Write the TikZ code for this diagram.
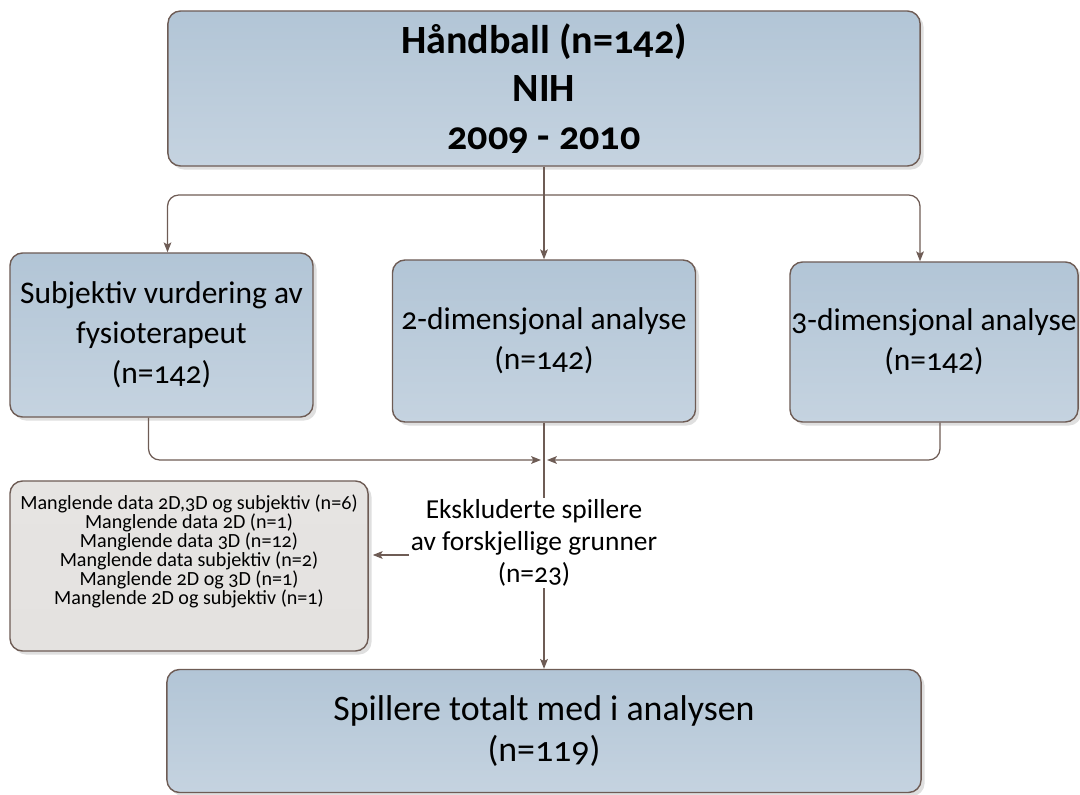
\documentclass[tikz,border=0pt]{standalone}
\usepackage{fontspec}
\setmainfont{Carlito}[Numbers=OldStyle]
\usetikzlibrary{arrows.meta}
\usetikzlibrary{calc}
\usetikzlibrary{positioning}
\usetikzlibrary{shadows}

\definecolor{rim}{RGB}{110,92,85}
\definecolor{bluetop}{RGB}{178,197,214}
\definecolor{bluebot}{RGB}{197,211,224}
\definecolor{greytop}{RGB}{230,228,226}
\definecolor{greybot}{RGB}{228,226,224}

\begin{document}
\begin{tikzpicture}[x=0.025cm, y=-0.025cm,
    box/.style={draw=rim, line width=1pt, rounded corners=9pt,
        top color=bluetop, bottom color=bluebot, align=center, inner sep=0pt,
        drop shadow={shadow xshift=2.5pt, shadow yshift=-2.5pt, fill=black!25}},
    greybox/.style={box, top color=greytop, bottom color=greybot},
    link/.style={draw=rim, line width=0.9pt},
    arrow/.style={link, -{Stealth[length=7pt, width=5.5pt, inset=1.5pt]}}]
    \useasboundingbox (0,0) rectangle (1080,795);

    \node[box, minimum width=18.8cm, minimum height=3.875cm,
        font=\fontsize{28.5}{34}\selectfont\bfseries] (cohort) at (544,88.5)
        {Håndball (n=142)\\NIH\\2009 - 2010};

    \node[box, minimum width=7.575cm, minimum height=4.1cm,
        font=\fontsize{22.4}{28.4}\selectfont] (subj) at (161.5,335)
        {Subjektiv vurdering av\\fysioterapeut\\(n=142)};
    \node[box, minimum width=7.575cm, minimum height=4.05cm,
        font=\fontsize{22.4}{28.4}\selectfont] (two) at (544,341)
        {2-dimensjonal analyse\\(n=142)};
    \node[box, minimum width=7.2cm, minimum height=4cm,
        font=\fontsize{22.4}{28.4}\selectfont] (three) at (934,342)
        {3-dimensjonal analyse\\(n=142)};

    \node[align=center, inner sep=1pt, font=\fontsize{19.5}{22.7}\selectfont] (excl) at (534,543)
        {Ekskluderte spillere\\av forskjellige grunner\\(n=23)};

    \node[greybox, minimum width=8.95cm, minimum height=4.25cm] (missing) at (189,566) {};
    \node[align=center, inner sep=0pt, font=\fontsize{14.3}{13.5}\selectfont] (missingtext)
        at ($(missing.center)+(0,-15)$)
        {Manglende data 2D,3D og subjektiv (n=6)\\Manglende data 2D (n=1)\\
         Manglende data 3D (n=12)\\Manglende data subjektiv (n=2)\\
         Manglende 2D og 3D (n=1)\\Manglende 2D og subjektiv (n=1)};

    \node[box, minimum width=18.85cm, minimum height=3.075cm,
        font=\fontsize{25.5}{29}\selectfont] (total) at (544,731)
        {Spillere totalt med i analysen\\(n=119)};

    % split from the cohort
    \coordinate (fork) at (544,195);
    \draw[arrow] (cohort.south -| fork) -- (two.north -| fork);
    \draw[arrow, rounded corners=8pt] (fork) -| ($(subj.north)+(6,0)$);
    \draw[arrow, rounded corners=8pt] (fork) -| ($(three.north)+(-14,0)$);

    % merge into the exclusions
    \coordinate (merge) at (544,460);
    \draw[arrow, rounded corners=8pt] ($(subj.south)+(-13,0)$) |- ($(merge)+(-3,0)$);
    \draw[arrow, rounded corners=8pt] ($(three.south)+(6,0)$) |- ($(merge)+(3,0)$);
    \draw[link] (two.south -| fork) -- (excl.north -| fork);
    \draw[arrow] ($(excl.west)+(0,12)$) -- ($(missing.east)+(4,-11)$);
    \draw[arrow] (excl.south -| fork) -- (total.north -| fork);
\end{tikzpicture}
\end{document}
